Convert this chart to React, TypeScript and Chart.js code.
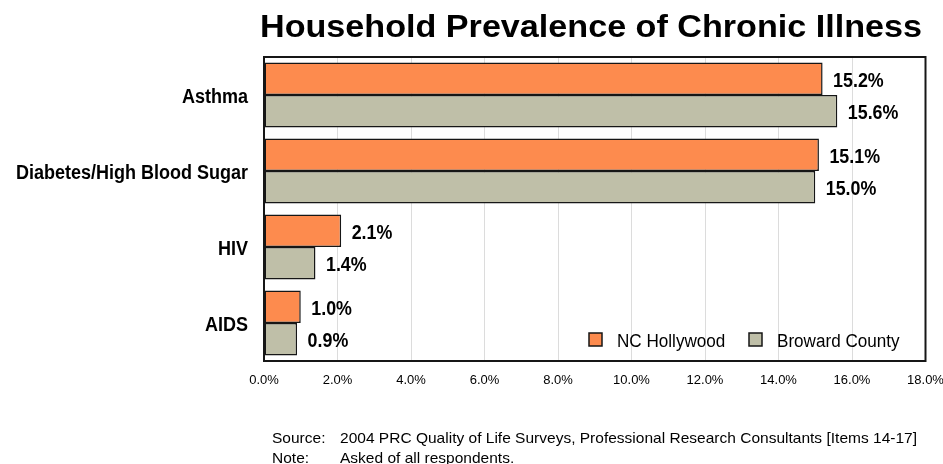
import React, { useEffect, useRef } from 'react';
import { Chart, registerables } from 'chart.js';
Chart.register(...registerables);

const categories = ['Asthma', 'Diabetes/High Blood Sugar', 'HIV', 'AIDS'];
const ncHollywood = [15.2, 15.1, 2.1, 1.0];
const browardCounty = [15.6, 15.0, 1.4, 0.9];
const seriesNames = ['NC Hollywood', 'Broward County'];
const axisMin = 0;
const axisMax = 18;
const axisStep = 2;
const titleText = 'Household Prevalence of Chronic Illness';
const footLabels = ['Source:', 'Note:'];
const footTexts = [
  '2004 PRC Quality of Life Surveys, Professional Research Consultants [Items 14-17]',
  'Asked of all respondents.',
];

const FONT = '"Liberation Sans", Arial, Helvetica, sans-serif';
const ORANGE = '#FD8B4E';
const KHAKI = '#BFBFA8';
const INK = '#161616';

function drawScaled(ctx: CanvasRenderingContext2D, text: string, x: number, y: number, font: string, sx: number, align: 'left' | 'right' | 'center') {
  ctx.save();
  ctx.font = font;
  ctx.textBaseline = 'alphabetic';
  ctx.textAlign = 'left';
  const w = ctx.measureText(text).width * sx;
  let left = x;
  if (align === 'right') left = x - w;
  else if (align === 'center') left = x - w / 2;
  ctx.translate(left, y);
  ctx.scale(sx, 1);
  ctx.fillStyle = '#000';
  ctx.fillText(text, 0, 0);
  ctx.restore();
}

function fitScale(ctx: CanvasRenderingContext2D, text: string, font: string, target: number) {
  ctx.save();
  ctx.font = font;
  const w = ctx.measureText(text).width;
  ctx.restore();
  return target / w;
}

const decorPlugin = {
  id: 'decor',
  afterDatasetsDraw(chart: any) {
    const ctx: CanvasRenderingContext2D = chart.ctx;
    const area = chart.chartArea;
    // frame
    ctx.save();
    ctx.strokeStyle = INK;
    ctx.lineWidth = 2;
    ctx.strokeRect(area.left, area.top, area.right - area.left, area.bottom - area.top);
    ctx.restore();

    // value labels
    const vFont = `bold 21px ${FONT}`;
    chart.data.datasets.forEach((ds: any, di: number) => {
      const meta = chart.getDatasetMeta(di);
      meta.data.forEach((el: any, i: number) => {
        const v = ds.data[i] as number;
        drawScaled(ctx, v.toFixed(1) + '%', el.x + 10.5, el.y + 8, vFont, 0.85, 'left');
      });
    });

    // category labels
    const yScale = chart.scales.y;
    const cFont = `bold 20px ${FONT}`;
    categories.forEach((c, i) => {
      const y = yScale.getPixelForValue(i);
      drawScaled(ctx, c, area.left - 16, y + 8, cFont, 0.9, 'right');
    });

    // legend inside the plot
    const lFont = `18px ${FONT}`;
    const items = [
      { name: seriesNames[0], color: ORANGE, bx: 589, tx: 617 },
      { name: seriesNames[1], color: KHAKI, bx: 749, tx: 777 },
    ];
    items.forEach((it) => {
      ctx.save();
      ctx.fillStyle = it.color;
      ctx.fillRect(it.bx, 333, 13, 13);
      ctx.strokeStyle = INK;
      ctx.lineWidth = 1.5;
      ctx.strokeRect(it.bx, 333, 13, 13);
      ctx.restore();
      drawScaled(ctx, it.name, it.tx, 347, lFont, 0.95, 'left');
    });
  },
  afterDraw(chart: any) {
    const ctx: CanvasRenderingContext2D = chart.ctx;
    const tFont = `bold 31px ${FONT}`;
    const tsx = fitScale(ctx, titleText, tFont, 662);
    drawScaled(ctx, titleText, 260, 37, tFont, tsx, 'left');

    const fFont = `15px ${FONT}`;
    const fsx = fitScale(ctx, footTexts[0], fFont, 577);
    footLabels.forEach((l, i) => {
      const y = 443 + i * 20;
      drawScaled(ctx, l, 272, y, fFont, fsx, 'left');
      drawScaled(ctx, footTexts[i], 340, y, fFont, fsx, 'left');
    });
  },
};

export default function App() {
  const ref = useRef<HTMLCanvasElement>(null);
  useEffect(() => {
    const chart = new Chart(ref.current as HTMLCanvasElement, {
      type: 'bar',
      data: {
        labels: categories,
        datasets: [
          {
            label: seriesNames[0],
            data: ncHollywood,
            backgroundColor: ORANGE,
            borderColor: INK,
            borderWidth: 1.5,
            borderSkipped: false,
            categoryPercentage: 0.855,
            barPercentage: 1,
          },
          {
            label: seriesNames[1],
            data: browardCounty,
            backgroundColor: KHAKI,
            borderColor: INK,
            borderWidth: 1.5,
            borderSkipped: false,
            categoryPercentage: 0.855,
            barPercentage: 1,
          },
        ],
      },
      options: {
        indexAxis: 'y',
        responsive: false,
        animation: false,
        layout: { padding: { top: 57, left: 264, right: 17.5, bottom: 0 } },
        plugins: {
          legend: { display: false },
          tooltip: { enabled: false },
          title: { display: false },
        },
        scales: {
          x: {
            min: axisMin,
            max: axisMax,
            border: { display: false },
            grid: { color: '#DCDCDC', lineWidth: 1, drawTicks: false },
            ticks: {
              stepSize: axisStep,
              padding: 12,
              color: '#000',
              font: { family: FONT, size: 13 },
              maxRotation: 0,
              autoSkip: false,
              callback: (v: any) => Number(v).toFixed(1) + '%',
            },
            afterFit: (s: any) => {
              s.height = 103;
              s.paddingLeft = 0;
              s.paddingRight = 0;
            },
          },
          y: {
            border: { display: false },
            grid: { display: false, drawTicks: false },
            ticks: { display: false },
            afterFit: (s: any) => {
              s.width = 0;
              s.paddingTop = 0;
              s.paddingBottom = 0;
            },
          },
        },
      },
      plugins: [decorPlugin],
    } as any);
    return () => chart.destroy();
  }, []);
  return (
    <div style={{ position: 'fixed', left: 0, top: 0, width: 943, height: 464, background: '#fff' }}>
      <canvas ref={ref} width={943} height={464} style={{ display: 'block', width: 943, height: 464 }} />
    </div>
  );
}
